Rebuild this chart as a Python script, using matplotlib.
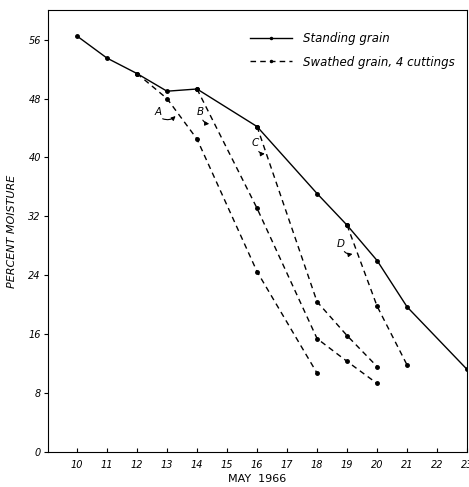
import numpy as np
import matplotlib.pyplot as plt

# standing grain
stand_day = [10, 11, 12, 13, 14, 16, 18, 19, 20, 21, 23]
stand_moist = [56.5, 53.5, 51.4, 49.0, 49.3, 44.2, 35.1, 30.8, 26.0, 19.7, 11.2]

# swathed grain, four cutting dates
cut_a_day = [12, 13, 14, 16, 18]
cut_a_moist = [51.4, 48.0, 42.5, 24.5, 10.7]
cut_b_day = [14, 16, 18, 19, 20]
cut_b_moist = [49.3, 33.1, 15.4, 12.3, 9.3]
cut_c_day = [16, 18, 19, 20]
cut_c_moist = [44.2, 20.4, 15.8, 11.6]
cut_d_day = [19, 20, 21]
cut_d_moist = [30.8, 19.8, 11.8]

# letter labels: (letter, label x, label y, arrow end x, arrow end y)
cut_labels = [
    ("A", 12.72, 46.2, 13.35, 45.9),
    ("B", 14.1, 46.2, 14.5, 44.6),
    ("C", 15.95, 41.9, 16.35, 40.6),
    ("D", 18.8, 28.3, 19.27, 27.0),
]

x_ticks = list(range(10, 24))
y_ticks = [0, 8, 16, 24, 32, 40, 48, 56]

plt.rcParams['font.family'] = ['DejaVu Sans']
plt.rcParams['font.style'] = 'italic'

fig = plt.figure(figsize=(4.69, 4.87), dpi=100)
ax = fig.add_axes([0.102, 0.072, 0.894, 0.907])

ax.plot(stand_day, stand_moist, color='black', lw=1.0, marker='o', ms=2.5,
        label='Standing grain')
first = True
for d, m in [(cut_a_day, cut_a_moist), (cut_b_day, cut_b_moist),
             (cut_c_day, cut_c_moist), (cut_d_day, cut_d_moist)]:
    ax.plot(d, m, color='black', lw=1.0, ls=(0, (4, 3)), marker='o', ms=2.5,
            label='Swathed grain, 4 cuttings' if first else None)
    first = False

for letter, lx, ly, ex, ey in cut_labels:
    ax.text(lx, ly, letter, fontsize=7.5, ha='center', va='center')
    ax.annotate('', xy=(ex, ey), xytext=(lx + 0.05, ly - 0.8),
                arrowprops=dict(arrowstyle='-|>', color='black', lw=0.8,
                                mutation_scale=6,
                                connectionstyle='arc3,rad=0.4'))

ax.set_xlim(9.03, 23)
ax.set_ylim(0, 60)
ax.set_xticks(x_ticks)
ax.set_yticks(y_ticks)
ax.tick_params(axis='y', direction='out', length=3, labelsize=7, pad=2)
ax.tick_params(axis='x', direction='in', length=3, labelsize=7, pad=6)
ax.set_xlabel('MAY  1966', fontsize=8, labelpad=3, style='normal')
ax.set_ylabel('PERCENT MOISTURE', fontsize=8)
ax.yaxis.set_label_coords(-0.073, 0.5)

ax.legend(loc='upper right', bbox_to_anchor=(0.995, 0.975), frameon=False,
          fontsize=8.5, handlelength=3.6, handletextpad=0.9,
          labelspacing=0.9, markerscale=0.6)

fig.savefig('out.png', dpi=100)
